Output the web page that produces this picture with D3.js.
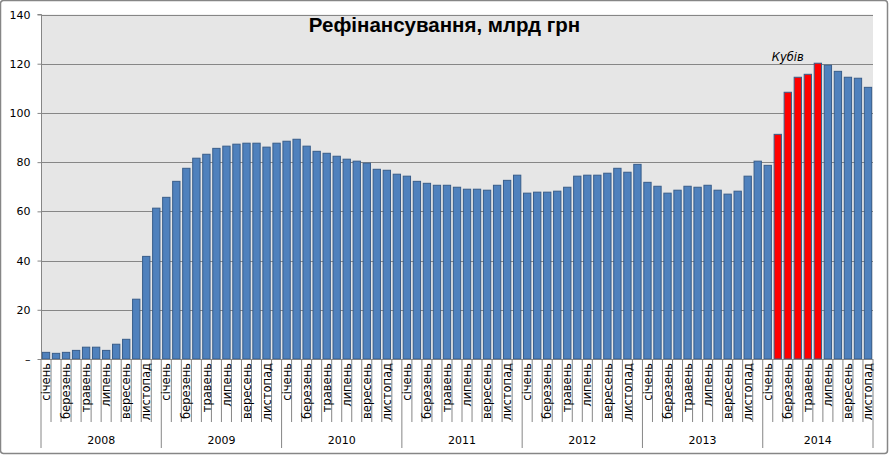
<!DOCTYPE html>
<html>

<head>
	<meta charset="utf-8">
	<title>Рефінансування</title>
	<style>
		body {
			margin: 0;
			background: #ffffff;
		}
		text {
			font-family: "DejaVu Sans", Verdana, sans-serif;
			fill: #000000;
		}
	</style>
</head>

<body>
	<script src="https://d3js.org/d3.v7.min.js"></script>
	<script type="text/javascript">
		var width = 889;
		var height = 455;

		// місяці (підписи лише через один)
		var months = ["січень", "лютий", "березень", "квітень", "травень", "червень",
			"липень", "серпень", "вересень", "жовтень", "листопад", "грудень"];
		var years = ["2008", "2009", "2010", "2011", "2012", "2013", "2014"];
		var monthsPerYear = [12, 12, 12, 12, 12, 12, 11];

		// рефінансування, млрд грн, по місяцях
		var v2008 = [2.7, 2.3, 2.7, 3.5, 4.8, 4.8, 3.5, 6.0, 8.0, 24.3, 41.7, 61.3];
		var v2009 = [65.7, 72.2, 77.5, 81.6, 83.2, 85.6, 86.5, 87.3, 87.7, 87.7, 86.1, 87.7];
		var v2010 = [88.5, 89.3, 86.5, 84.4, 83.6, 82.4, 81.2, 80.4, 79.6, 77.1, 76.7, 75.1];
		var v2011 = [74.3, 72.2, 71.4, 70.6, 70.6, 69.8, 69.0, 69.0, 68.6, 70.6, 72.6, 74.7];
		var v2012 = [67.4, 67.8, 67.8, 68.2, 69.8, 74.3, 74.7, 74.7, 75.5, 77.5, 75.9, 79.1];
		var v2013 = [71.8, 70.2, 67.4, 68.6, 70.2, 69.8, 70.6, 68.6, 67.0, 68.2, 74.3, 80.4];
		var v2014 = [78.7, 91.3, 108.4, 114.5, 115.7, 120.2, 119.4, 116.9, 114.5, 114.1, 110.4];

		// місяці 2014, виділені червоним (Кубів)
		var redMonths2014 = [1, 2, 3, 4, 5];
		var yTicks = [0, 20, 40, 60, 80, 100, 120, 140];
		var title = "Рефінансування, млрд грн";
		var note = "Кубів";

		var perYear = [v2008, v2009, v2010, v2011, v2012, v2013, v2014];
		var data = [];
		for (var i = 0; i < perYear.length; i++) {
			for (var j = 0; j < perYear[i].length; j++) {
				data.push({
					idx: data.length,
					year: years[i],
					month: j,
					value: perYear[i][j],
					red: years[i] === "2014" && redMonths2014.indexOf(j) >= 0
				});
			}
		}

		var plotLeft = 41;
		var plotRight = 873;
		var plotTop = 14.5;
		var plotBottom = 359;

		var x = d3.scaleBand()
			.domain(data.map(function(d) { return d.idx; }))
			.range([plotLeft, plotRight])
			.paddingInner(0.27)
			.paddingOuter(0.135);

		var y = d3.scaleLinear()
			.domain([0, 140])
			.range([plotBottom, plotTop]);

		var svg = d3.select("body").append("svg")
			.attr("width", width)
			.attr("height", height);

		// рамка діаграми
		svg.append("rect")
			.attr("x", 0.5)
			.attr("y", 0.5)
			.attr("width", width - 2)
			.attr("height", height - 2)
			.attr("rx", 3)
			.style("fill", "#ffffff")
			.style("stroke", "#868686")
			.style("stroke-width", 1.5);

		// область побудови
		svg.append("rect")
			.attr("x", plotLeft)
			.attr("y", plotTop)
			.attr("width", plotRight - plotLeft)
			.attr("height", plotBottom - plotTop)
			.style("fill", "#e6e6e6");

		// сітка
		svg.append("g").selectAll("line")
			.data(yTicks.filter(function(t) { return t > 0; }))
			.enter().append("line")
			.attr("x1", plotLeft)
			.attr("x2", plotRight)
			.attr("y1", function(d) { return Math.round(y(d)) + 0.5; })
			.attr("y2", function(d) { return Math.round(y(d)) + 0.5; })
			.style("stroke", "#868686")
			.style("stroke-width", 1.2);

		// вісь Y
		var yAxis = svg.append("g")
			.attr("transform", "translate(" + (plotLeft + 0.5) + ",0)")
			.call(d3.axisLeft(y)
				.tickValues(yTicks)
				.tickSize(4)
				.tickPadding(7)
				.tickFormat(function(d) { return d === 0 ? "–" : d; }));
		yAxis.select(".domain").style("stroke", "#868686").attr("d", "M-4," + plotTop + "H0V" + plotBottom);
		yAxis.selectAll(".tick line").style("stroke", "#868686");
		yAxis.selectAll(".tick text")
			.style("font-family", "DejaVu Sans, Verdana, sans-serif")
			.style("font-size", "11px")
			.style("fill", "#000000");

		// стовпчики
		svg.append("g").selectAll("rect")
			.data(data)
			.enter().append("rect")
			.attr("x", function(d) { return x(d.idx); })
			.attr("y", function(d) { return y(d.value); })
			.attr("width", x.bandwidth())
			.attr("height", function(d) { return y(0) - y(d.value); })
			.style("fill", function(d) { return d.red ? "#ff0000" : "#4f81bd"; })
			.style("stroke", "#385d8a")
			.style("stroke-width", 1);

		// вісь категорій
		svg.append("line")
			.attr("x1", plotLeft)
			.attr("x2", plotRight)
			.attr("y1", plotBottom + 0.5)
			.attr("y2", plotBottom + 0.5)
			.style("stroke", "#868686")
			.style("stroke-width", 1.2);

		var step = x.step();
		var boundaries = d3.range(data.length + 1);
		svg.append("g").selectAll("line")
			.data(boundaries)
			.enter().append("line")
			.attr("x1", function(d) { return plotLeft + d * step; })
			.attr("x2", function(d) { return plotLeft + d * step; })
			.attr("y1", plotBottom)
			.attr("y2", function(d) {
				var isYear = d === 0 || d === data.length || data[d].month === 0;
				return isYear ? 448 : 422;
			})
			.style("stroke", "#868686")
			.style("stroke-width", 1);

		// підписи місяців
		svg.append("g").selectAll("text")
			.data(data.filter(function(d) { return d.month % 2 === 0; }))
			.enter().append("text")
			.attr("transform", function(d) {
				return "translate(" + (x(d.idx) + x.bandwidth() / 2) + "," + (plotBottom + 4) + ") rotate(-90)";
			})
			.attr("text-anchor", "end")
			.attr("dy", "0.36em")
			.style("font-size", "11.5px")
			.text(function(d) { return months[d.month]; });

		// підписи років
		var start = 0;
		var yearPos = [];
		for (var k = 0; k < years.length; k++) {
			yearPos.push({ year: years[k], from: start, to: start + monthsPerYear[k] });
			start += monthsPerYear[k];
		}
		svg.append("g").selectAll("text")
			.data(yearPos)
			.enter().append("text")
			.attr("x", function(d) { return plotLeft + (d.from + d.to) / 2 * step; })
			.attr("y", 444)
			.attr("text-anchor", "middle")
			.style("font-size", "11px")
			.text(function(d) { return d.year; });

		// заголовок
		svg.append("text")
			.attr("x", width / 2)
			.attr("y", 32)
			.attr("text-anchor", "middle")
			.style("font-family", "Liberation Sans, Arial, sans-serif")
			.style("font-weight", "bold")
			.style("font-size", "20.5px")
			.text(title);

		// примітка
		svg.append("text")
			.attr("x", x(74) + x.bandwidth() / 2)
			.attr("y", y(120.9))
			.attr("text-anchor", "middle")
			.style("font-style", "italic")
			.style("font-size", "11.5px")
			.text(note);
	</script>
</body>

</html>
